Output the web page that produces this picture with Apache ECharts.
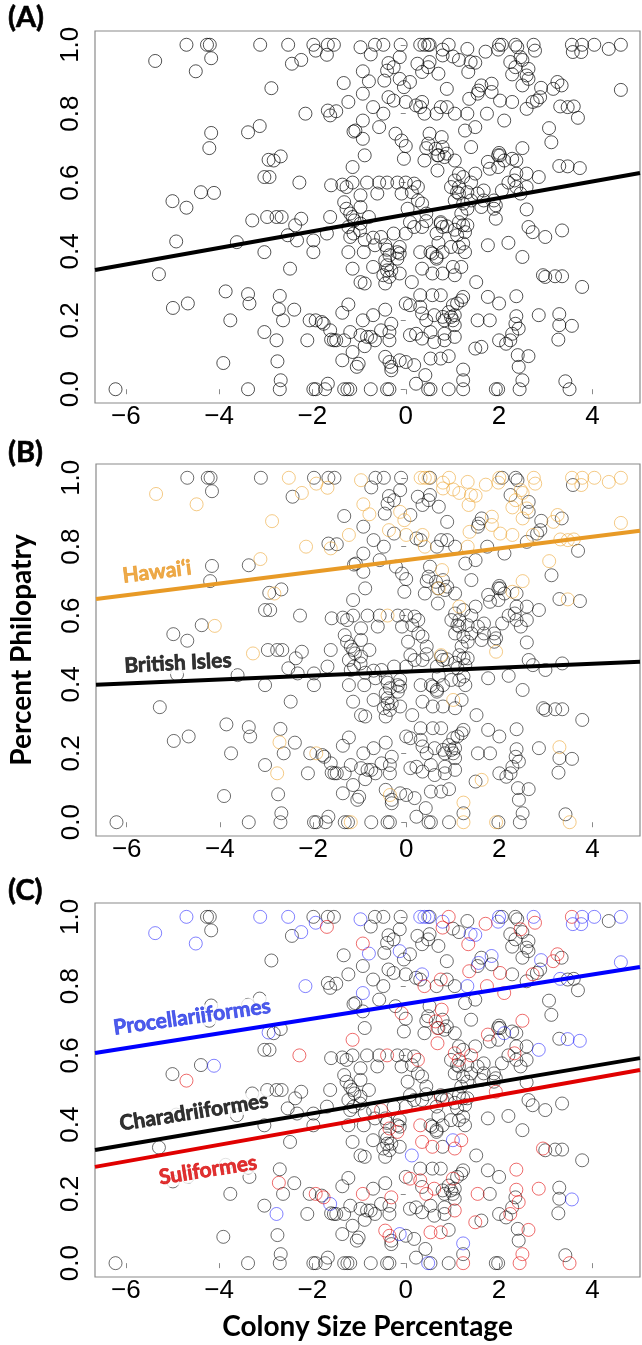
<!DOCTYPE html>
<html>
<head>
<meta charset="utf-8">
<script src="https://cdn.jsdelivr.net/npm/echarts@6/dist/echarts.min.js"></script>
<style>
html, body { margin: 0; padding: 0; background: #fff; }
#chart { width: 642px; height: 1345px; }
</style>
</head>
<body>
<div id="chart"></div>
<script>
// colony size (x) and philopatry (y), one entry per colony, same points in all 3 panels
var colonySize = [
    // 0.9 - 1.0
    -4.70,-4.26,-4.20,-3.12,-2.52,-1.98,-1.93,-1.67,-1.54,-0.97,
    -0.66,-0.48,-0.11,0.31,0.40,0.48,0.51,0.92,0.79,1.32,
    1.71,2.00,1.98,2.06,2.35,2.39,2.74,2.77,3.56,3.58,
    3.78,3.76,4.04,4.35,4.61,-5.37,-4.17,-4.50,-2.24,-2.44,
    -1.69,-0.75,-0.13,-0.37,-0.26,0.51,0.79,1.01,1.14,1.39,
    1.49,2.46,2.50,2.24,-0.92,-0.40,0.35,0.48,0.70,0.25,
    1.34,2.28,2.35,2.63,2.59,-0.13,-0.46,
    // 0.8 - 0.9
    -1.33,-0.79,0.09,-0.04,-2.88,1.56,1.54,1.84,1.62,1.84,
    2.50,2.63,2.90,3.25,3.34,3.16,4.61,-0.92,-0.37,-0.26,
    0.88,1.36,2.02,2.28,2.81,2.88,-1.23,0.00,0.22,0.35,
    0.31,0.40,-0.70,-0.48,0.75,0.88,0.66,1.05,1.32,1.74,
    2.11,2.59,2.72,3.31,3.47,3.60,3.69,-2.15,-1.67,-1.62,-1.49,
    // 0.7 - 0.8
    -3.38,-3.13,-4.17,-4.21,-1.08,-1.12,-0.92,-0.92,-0.57,-0.22,
    -0.09,0.00,0.51,0.48,0.77,1.27,1.49,1.40,3.07,3.12,
    -0.88,0.64,0.68,0.79,0.88,0.44,2.00,2.02,2.50,2.37,
    // 0.6 - 0.7
    -2.94,-2.83,-2.68,-1.14,-0.04,0.40,0.68,0.70,0.83,1.05,
    1.76,1.80,1.98,2.28,2.11,1.98,1.49,1.14,1.23,1.05,
    1.40,3.29,3.47,3.73,-3.03,-2.92,-2.28,-1.60,-1.36,-1.27,
    -1.14,-0.83,-0.57,-0.40,-0.18,0.00,0.18,0.26,0.97,1.14,
    2.37,2.59,2.85,2.33,2.20,2.37,
    // 0.5 - 0.6
    -4.39,-4.11,-5.00,-4.70,1.10,1.14,1.32,1.67,1.54,1.67,
    2.06,1.89,1.93,2.59,2.46,0.26,0.13,-0.09,-0.61,-0.97,
    -1.32,-1.27,-1.19,-1.14,0.04,0.35,1.05,1.23,1.40,1.32,
    1.62,2.59,1.19,1.89,0.44,-0.97,-1.62,-3.29,-2.97,-2.77,
    -2.66,-2.24,-2.37,-1.10,-0.97,-0.79,0.75,0.88,1.14,1.23,
    1.93,0.09,0.44,
    // 0.4 - 0.5
    -4.92,-3.62,-3.03,-2.53,-2.33,-1.98,-1.98,-1.69,-1.23,-1.12,
    -0.98,-1.19,-0.88,-0.70,-0.66,-0.53,-0.44,-0.26,0.00,0.18,
    0.35,0.66,0.70,0.75,0.79,1.05,1.10,1.27,1.23,1.32,
    1.76,2.20,2.63,2.72,2.99,3.35,1.27,1.14,0.97,0.79,
    0.53,0.66,0.31,-0.40,-0.35,-0.13,-0.18,-1.23,-0.90,
    // 0.3 - 0.4
    -5.29,-2.48,-1.14,-0.97,-0.88,-0.70,-0.44,-0.40,-0.40,-0.48,
    -0.31,-0.44,-0.13,-0.18,-0.13,0.13,0.35,0.57,0.57,0.66,
    0.79,1.01,1.19,1.05,1.51,2.50,2.94,2.99,3.20,3.35,
    3.78,-0.35,
    // 0.2 - 0.3
    -3.86,-3.38,-3.35,-4.67,-4.99,-2.70,-2.72,-2.39,-2.63,-1.23,
    -1.36,-0.44,0.00,0.09,0.31,0.57,0.75,0.31,0.35,0.44,
    0.61,0.79,0.97,1.01,1.10,1.19,1.23,0.92,1.05,1.76,
    2.00,2.37,2.37,2.85,3.29,0.83,1.01,-3.76,
    // 0.1 - 0.2
    -2.06,-1.93,-1.80,-1.76,-1.62,-1.54,-1.60,-1.49,-1.32,-1.19,
    -0.92,-0.70,-0.97,-0.83,-0.75,-0.66,-0.88,-0.31,-0.35,-0.35,
    -0.53,0.09,0.22,0.35,0.53,0.61,0.83,0.83,1.05,1.05,
    1.54,1.80,2.35,2.42,2.28,2.24,2.00,2.15,1.49,1.62,
    3.29,3.56,3.27,-3.03,-2.77,-2.11,-1.14,
    // 0.0 - 0.1
    -3.91,-2.75,-2.68,-1.36,-1.05,-1.01,-0.44,-0.35,-0.31,-0.31,
    -0.13,0.00,0.18,0.53,0.75,0.92,0.42,0.22,1.23,1.23,
    2.40,2.42,2.50,2.63,3.42,3.51,-6.22,-3.38,-2.70,-1.98,
    -1.93,-1.73,-1.67,-1.32,-1.25,-1.19,-0.75,-0.40,-0.35,0.48,
    0.53,0.92,1.23,1.93,1.98,2.44
];

var philopatry = [
    1.00,1.00,1.00,1.00,1.00,1.00,0.983,1.00,1.00,0.993,
    1.00,1.00,1.00,1.00,1.00,1.00,1.00,1.00,0.986,0.988,
    0.980,1.00,0.986,1.00,1.00,0.993,1.00,0.983,1.00,0.979,
    1.00,0.979,1.00,0.988,1.00,0.953,0.961,0.923,0.956,0.945,
    0.971,0.972,0.964,0.947,0.935,0.950,0.969,0.966,0.956,0.950,
    0.948,0.964,0.956,0.950,0.923,0.925,0.921,0.935,0.916,0.945,
    0.921,0.914,0.935,0.930,0.911,0.901,0.896,

    0.889,0.894,0.892,0.877,0.874,0.867,0.858,0.887,0.882,0.863,
    0.882,0.901,0.875,0.892,0.882,0.872,0.869,0.858,0.848,0.838,
    0.872,0.843,0.838,0.834,0.838,0.848,0.834,0.834,0.824,0.834,
    0.819,0.800,0.819,0.800,0.819,0.819,0.800,0.800,0.800,0.800,
    0.780,0.814,0.834,0.821,0.819,0.821,0.788,0.800,0.809,0.795,0.807,

    0.746,0.764,0.744,0.700,0.751,0.748,0.780,0.727,0.761,0.742,
    0.722,0.706,0.742,0.713,0.732,0.751,0.761,0.703,0.758,0.717,
    0.679,0.698,0.679,0.703,0.684,0.700,0.686,0.679,0.700,0.664,

    0.666,0.664,0.676,0.645,0.669,0.664,0.635,0.679,0.674,0.664,
    0.660,0.640,0.645,0.669,0.664,0.679,0.626,0.626,0.616,0.606,
    0.600,0.648,0.647,0.642,0.616,0.616,0.600,0.592,0.594,0.587,
    0.600,0.600,0.600,0.600,0.600,0.600,0.597,0.587,0.587,0.587,
    0.626,0.626,0.616,0.606,0.600,0.587,

    0.572,0.570,0.546,0.527,0.572,0.568,0.572,0.577,0.568,0.548,
    0.577,0.548,0.534,0.587,0.568,0.548,0.572,0.568,0.568,0.563,
    0.543,0.524,0.510,0.500,0.524,0.539,0.548,0.539,0.548,0.524,
    0.529,0.522,0.510,0.524,0.510,0.529,0.500,0.490,0.500,0.500,
    0.500,0.495,0.476,0.490,0.481,0.500,0.485,0.473,0.485,0.476,
    0.495,0.485,0.488,

    0.429,0.427,0.398,0.447,0.432,0.432,0.398,0.452,0.471,0.452,
    0.461,0.442,0.434,0.440,0.418,0.442,0.418,0.452,0.452,0.471,
    0.471,0.452,0.425,0.481,0.471,0.463,0.447,0.456,0.423,0.476,
    0.418,0.425,0.471,0.456,0.442,0.461,0.398,0.413,0.413,0.398,
    0.398,0.384,0.398,0.405,0.389,0.413,0.398,0.398,0.398,

    0.334,0.350,0.350,0.311,0.307,0.355,0.374,0.360,0.345,0.331,
    0.345,0.307,0.394,0.379,0.336,0.311,0.350,0.336,0.394,0.379,
    0.336,0.355,0.355,0.331,0.311,0.384,0.331,0.326,0.328,0.328,
    0.297,0.326,

    0.284,0.276,0.249,0.249,0.236,0.271,0.232,0.231,0.200,0.246,
    0.222,0.231,0.249,0.244,0.273,0.273,0.273,0.239,0.220,0.200,
    0.215,0.210,0.210,0.244,0.249,0.258,0.268,0.224,0.215,0.268,
    0.249,0.270,0.212,0.215,0.218,0.200,0.200,0.200,

    0.200,0.200,0.195,0.190,0.171,0.142,0.144,0.142,0.142,0.166,
    0.200,0.215,0.157,0.152,0.152,0.142,0.125,0.190,0.166,0.142,
    0.171,0.157,0.161,0.147,0.166,0.137,0.161,0.142,0.152,0.186,
    0.200,0.200,0.190,0.176,0.161,0.142,0.142,0.132,0.118,0.123,
    0.186,0.184,0.144,0.166,0.142,0.142,0.108,

    0.076,0.081,0.026,0.084,0.065,0.074,0.094,0.079,0.065,0.055,
    0.084,0.079,0.070,0.089,0.089,0.096,0.041,0.016,0.057,0.026,
    0.099,0.065,0.026,0.096,0.023,0.000,0.000,0.000,0.000,0.000,
    0.000,0.000,0.016,0.000,0.000,0.000,0.000,0.000,0.000,0.000,
    0.000,0.000,0.000,0.000,0.000,0.000
];

// panel B: H = Hawai'i, B = British Isles
var regionCode = [
    "BBBBHBHBBH","BBBHHHBHHH","HHHBBBHHHB","HHHHHHBHHB","HBBBBBHHHH","HHHBHBBBBB","HHHBHHB",
    "BHBHHBBHBH","HBBHBHHBHB","BHHHBBHHBH","BHBBBBBBHB","BBHHHHBHBHB",
    "BHBBBBBBBB","BBBBHBBBHB","BBBBBBBBHB",
    "BHBBBBBHBB","BBBHBBBHBB","BBHBBBBBBB","BBBHBBBBBB","BBBBBB",
    "BHBBBBBBBB","BBBBBBBBBB","BBBBBBBBBB","BBBBBBBHBB","BBBBBBHBBB","HBB",
    "BBBBBBBBBB","BBBBBBBBBB","BBBBBBBBBB","BBBBBBBBBB","BBBBBBBBB",
    "BBBBBBBBBB","BBBBBBBBBB","BHBBBBBBBB","BB",
    "BBBBBBHBBB","BBBBBBBBBB","BBBBBBBBBB","BBBBHBBB",
    "BHBBBBBBBB","BBBBBBBBBB","BBBBBBBBBB","BBBBBBBBBH","BBBBHBB",
    "BBBBBBBHBB","BBBBBBBBHB","BBBBBHBBBB","BBBBBHBBBB","BBHHBB"
].join("");

// panel C: P = Procellariiformes, C = Charadriiformes, S = Suliformes
var orderCode = [
    "PCCPPCPCCP","CCCPPPCSPC","SPPCCCPSSP","PPPCPPCPPC","SCCCCCSCCP","PSCCSCCCCC","SCCCCPC",
    "CPCCCPCPCC","CCPSCSPCCC","CSSCCCCCCP","CSCCSCCCPS","SCSPCCCPCCC",
    "CCCCCCPCCC","SCCCSCCCCC","CSSCCCCCSC",
    "PCCSCCSCCC","SCCCPCCCCS","SCPPCCSCCC","CCCSCCCSCS","CCPSCC",
    "CPCSCCCCCC","CCCCCCCCCC","CCCCCCCCCC","CCCCCCCCCC","CCCCCCCCCC","SCC",
    "CCCCCCCCCC","CCCCCSCCCC","CCCSCCCCCC","CCCCCCCCCC","CCSCSCCCC",
    "CCCCCCCCCC","CCCSCPSSCC","CPSSCCSCCC","CC",
    "CCCCCCSCCC","CCCSCCCSCS","SCCSCCCCCC","CSSSCCCC",
    "CSCSPCCCCC","SCCCCCCSCC","CCCCCCCCSC","SCCSCSCCSC","CPCCPCC",
    "CCCCCCSSCC","PCCSSCCCPC","CCSSCSCCCC","CCCCCCCCCP","CCSCCS"
].join("");

var xTicks = [-6, -4, -2, 0, 2, 4];
var yTicks = [0, 0.2, 0.4, 0.6, 0.8, 1.0];
var xRange = [-6.66, 5.02];
var yRange = [-0.04, 1.04];

// fitted lines: value at left edge, value at right edge
var fitAll = [0.346, 0.628];
var fitHawaii = [0.648, 0.846];
var fitBritish = [0.399, 0.466];
var fitProc = [0.607, 0.855];
var fitChar = [0.327, 0.592];
var fitSuli = [0.278, 0.558];

if (colonySize.length !== philopatry.length || regionCode.length !== colonySize.length || orderCode.length !== colonySize.length) {
    console.error("length mismatch", colonySize.length, philopatry.length, regionCode.length, orderCode.length);
}

function pick(codes, code) {
    var out = [];
    for (var i = 0; i < colonySize.length; i++) {
        if (!codes || codes.charAt(i) === code) out.push([colonySize[i], philopatry[i]]);
    }
    return out;
}
function fitLine(f) {
    return [[xRange[0], f[0]], [xRange[1], f[1]]];
}

var numFont = "'Liberation Sans', Arial, sans-serif";
var boldFont = "Lato, 'Open Sans', sans-serif";
var frameColor = '#8a8a8a';

function makeX(idx, withName) {
    var ax = {
        type: 'value', gridIndex: idx, min: xRange[0], max: xRange[1],
        axisLine: { show: false },
        splitLine: { show: false },
        axisTick: { show: true, customValues: xTicks, length: 5, lineStyle: { color: frameColor, width: 1 } },
        axisLabel: {
            customValues: xTicks, margin: 1, fontSize: 26, color: '#000', fontFamily: numFont,
            formatter: function (v) { return v < 0 ? '\u2212' + Math.abs(v) : String(v); }
        }
    };
    if (withName) {
        ax.name = 'Colony Size Percentage';
        ax.nameLocation = 'middle';
        ax.nameGap = 36;
        ax.nameTextStyle = { fontSize: 28, fontWeight: 'bold', color: '#000', fontFamily: boldFont, verticalAlign: 'top' };
    }
    return ax;
}
function makeY(idx, withName) {
    var ax = {
        type: 'value', gridIndex: idx, min: yRange[0], max: yRange[1],
        axisLine: { show: false },
        splitLine: { show: false },
        axisTick: { show: true, customValues: yTicks, length: 5, lineStyle: { color: frameColor, width: 1 } },
        axisLabel: {
            customValues: yTicks, rotate: 90, margin: 11, fontSize: 26, color: '#000', fontFamily: numFont,
            formatter: function (v) { return v.toFixed(1); }
        }
    };
    if (withName) {
        ax.name = 'Percent Philopatry';
        ax.nameLocation = 'middle';
        ax.nameGap = 60;
        ax.nameTextStyle = { fontSize: 28, fontWeight: 'bold', color: '#000', fontFamily: boldFont };
    }
    return ax;
}

function pointSeries(idx, data, color) {
    return {
        type: 'scatter', xAxisIndex: idx, yAxisIndex: idx, data: data,
        symbol: 'circle', symbolSize: 13, silent: true, z: 2,
        itemStyle: { color: 'rgba(0,0,0,0)', borderColor: color, borderWidth: 1 }
    };
}
function lineSeries(idx, f, color) {
    return {
        type: 'line', xAxisIndex: idx, yAxisIndex: idx, data: fitLine(f),
        symbol: 'none', silent: true, z: 4,
        lineStyle: { color: color, width: 4 }
    };
}
function textSeries(idx, text, x, y, rot, color) {
    return {
        type: 'scatter', xAxisIndex: idx, yAxisIndex: idx, data: [[x, y]],
        symbolSize: 0, silent: true, z: 3,
        label: {
            show: true, position: 'inside', formatter: text, rotate: rot,
            fontSize: 21, fontWeight: 'bold', fontFamily: boldFont, color: color,
            textBorderColor: color, textBorderWidth: 0.7,
            backgroundColor: '#fff', padding: [0, 2]
        }
    };
}

var black = 'rgba(0,0,0,0.85)';
var blackSoft = 'rgba(0,0,0,0.72)';
var orange = 'rgba(236,160,40,0.7)';
var blue = 'rgba(0,0,255,0.62)';
var red = 'rgba(225,0,0,0.72)';

var gridBox = { left: 95, right: 2, show: true, borderColor: frameColor, borderWidth: 1.2, backgroundColor: '#fff' };
var panelTitle = { fontSize: 29, fontWeight: 'bold', fontFamily: boldFont, color: '#000', textBorderColor: '#000', textBorderWidth: 0.6 };

var myChart = echarts.init(document.getElementById('chart'), null, { renderer: 'canvas' });
var option = {
    animation: false,
    backgroundColor: '#fff',
    title: [
        { text: '(A)', left: 8, top: 3, padding: 0, textStyle: panelTitle },
        { text: '(B)', left: 8, top: 438, padding: 0, textStyle: panelTitle },
        { text: '(C)', left: 8, top: 876, padding: 0, textStyle: panelTitle }
    ],
    grid: [
        Object.assign({ top: 31, height: 372 }, gridBox),
        Object.assign({ top: 464, height: 372 }, gridBox),
        Object.assign({ top: 903, height: 374 }, gridBox)
    ],
    xAxis: [makeX(0, false), makeX(1, false), makeX(2, true)],
    yAxis: [makeY(0, false), makeY(1, true), makeY(2, false)],
    series: [
        // (A) all colonies
        pointSeries(0, pick(null), black),
        lineSeries(0, fitAll, '#000'),
        // (B) by region
        pointSeries(1, pick(regionCode, 'B'), blackSoft),
        pointSeries(1, pick(regionCode, 'H'), orange),
        lineSeries(1, fitHawaii, '#E89A26'),
        lineSeries(1, fitBritish, '#000'),
        textSeries(1, 'Hawai\u2018i', -5.35, 0.727, 7, '#E8951E'),
        textSeries(1, 'British Isles', -4.9, 0.462, 3, '#000'),
        // (C) by order
        pointSeries(2, pick(orderCode, 'C'), blackSoft),
        pointSeries(2, pick(orderCode, 'P'), blue),
        pointSeries(2, pick(orderCode, 'S'), red),
        lineSeries(2, fitProc, '#0000FF'),
        lineSeries(2, fitChar, '#000'),
        lineSeries(2, fitSuli, '#E00000'),
        textSeries(2, 'Procellariiformes', -4.58, 0.711, 8, '#2233E6'),
        textSeries(2, 'Charadriiformes', -4.54, 0.436, 9, '#000'),
        textSeries(2, 'Suliformes', -4.24, 0.269, 9, '#D80000')
    ]
};
myChart.setOption(option);
</script>
</body>
</html>
